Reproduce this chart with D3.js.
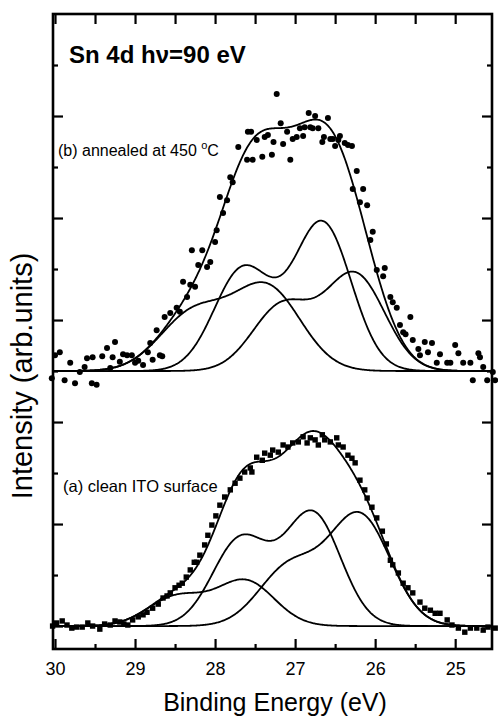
<!DOCTYPE html>
<html>
<head>
<meta charset="utf-8">
<script src="https://cdn.jsdelivr.net/npm/d3@7"></script>
<style>
  body { margin: 0; background: #fff; }
  svg { display: block; font-family: "Liberation Sans", Arial, sans-serif; }
</style>
</head>
<body>
<script>
// tick labels on the energy axis
const energyTicks = [30, 29, 28, 27, 26, 25];

// (b) annealed at 450 C : [binding energy eV, intensity above its own baseline]
const annealedPoints = [
  [30.04,-0.14],[30.0,0.31],[29.94,0.37],[29.88,-0.18],[29.81,0.16],[29.75,-0.24],[29.69,-0.02],
  [29.63,0.08],[29.6,0.25],[29.54,-0.24],[29.53,0.27],[29.48,-0.27],[29.41,0.29],[29.35,0.45],
  [29.31,0.06],[29.28,0.27],[29.25,0.57],[29.19,0.18],[29.15,0.33],[29.1,0.31],[29.04,0.31],
  [29.0,0.16],[28.96,0.2],[28.9,0.12],[28.84,0.37],[28.81,0.55],[28.78,0.22],[28.73,0.8],
  [28.69,0.31],[28.66,0.29],[28.63,1.06],[28.56,1.14],[28.48,1.24],[28.44,1.16],[28.4,1.75],
  [28.35,1.45],[28.31,1.69],[28.29,2.37],[28.25,1.65],[28.21,2.08],[28.16,2.37],[28.1,2.04],
  [28.06,2.14],[28.0,2.53],[27.98,2.76],[27.94,3.41],[27.9,3.1],[27.85,3.35],[27.81,3.8],
  [27.78,3.7],[27.71,4.39],[27.6,4.14],[27.59,4.69],[27.55,4.69],[27.53,4.14],[27.48,4.53],
  [27.41,4.2],[27.38,4.59],[27.34,4.63],[27.29,4.24],[27.27,4.49],[27.23,5.43],[27.18,4.86],
  [27.15,4.45],[27.1,4.69],[27.06,4.14],[27.03,4.55],[26.98,4.59],[26.94,4.76],[26.9,4.61],
  [26.88,4.78],[26.83,5.06],[26.81,4.78],[26.78,4.76],[26.75,5.0],[26.71,4.76],[26.66,4.49],
  [26.64,4.59],[26.59,4.96],[26.56,4.55],[26.53,4.55],[26.5,4.41],[26.46,4.53],[26.44,4.61],
  [26.38,4.47],[26.34,4.43],[26.29,4.41],[26.28,3.57],[26.23,3.92],[26.19,3.31],[26.15,3.57],
  [26.1,3.25],[26.06,2.57],[26.03,2.73],[25.98,1.98],[25.9,1.86],[25.88,2.02],[25.81,1.45],
  [25.78,1.35],[25.73,1.24],[25.69,0.9],[25.65,0.76],[25.62,0.72],[25.56,1.06],[25.53,0.61],
  [25.46,0.43],[25.44,0.31],[25.38,0.57],[25.34,0.37],[25.29,0.55],[25.23,0.16],[25.19,0.33],
  [25.1,0.16],[25.06,0.16],[25.0,0.51],[24.96,0.35],[24.9,0.16],[24.81,0.16],[24.78,-0.18],
  [24.71,0.35],[24.69,0.27],[24.65,0.08],[24.6,-0.18],[24.53,-0.02],[24.5,-0.18]
];

// (a) clean ITO surface
const cleanPoints = [
  [30.03,0.0],[29.98,0.06],[29.91,0.1],[29.85,0.02],[29.79,-0.04],[29.73,-0.02],[29.66,-0.02],
  [29.59,0.06],[29.53,0.0],[29.44,-0.06],[29.38,0.04],[29.31,0.02],[29.25,0.1],[29.19,0.08],
  [29.14,0.04],[29.09,0.02],[29.03,0.12],[28.96,0.18],[28.9,0.22],[28.85,0.27],[28.78,0.35],
  [28.71,0.43],[28.65,0.55],[28.6,0.59],[28.56,0.65],[28.5,0.75],[28.45,0.8],[28.41,0.84],
  [28.36,0.96],[28.31,1.1],[28.26,1.25],[28.23,1.25],[28.19,1.39],[28.13,1.59],[28.09,1.78],
  [28.04,1.98],[27.99,2.16],[27.94,2.37],[27.88,2.53],[27.81,2.67],[27.75,2.8],[27.69,2.9],
  [27.63,3.02],[27.56,3.1],[27.54,3.02],[27.48,3.31],[27.41,3.25],[27.38,3.39],[27.31,3.35],
  [27.28,3.45],[27.21,3.41],[27.15,3.55],[27.09,3.51],[27.03,3.59],[26.96,3.61],[26.9,3.71],
  [26.85,3.59],[26.81,3.69],[26.75,3.65],[26.71,3.55],[26.66,3.75],[26.63,3.65],[26.56,3.61],
  [26.48,3.69],[26.46,3.55],[26.4,3.51],[26.34,3.35],[26.29,3.29],[26.25,3.2],[26.19,2.86],
  [26.13,2.67],[26.1,2.51],[26.04,2.33],[25.98,2.12],[25.91,1.86],[25.86,1.61],[25.81,1.29],
  [25.78,1.2],[25.71,1.04],[25.65,0.84],[25.59,0.75],[25.53,0.65],[25.44,0.47],[25.38,0.35],
  [25.31,0.31],[25.25,0.25],[25.19,0.25],[25.1,0.12],[25.04,0.02],[24.96,-0.04],[24.88,-0.12],
  [24.81,-0.04],[24.73,-0.04],[24.65,-0.08],[24.59,-0.02],[24.5,-0.04]
];

// fitted spin-orbit doublets (4d3/2, 4d5/2): centres, heights, gaussian width
const annealedCentres = [[28.27, 27.35], [27.65, 26.66], [27.16, 26.25]];
const annealedHeights = [[1.12, 1.62], [2.0, 2.9], [1.28, 1.88]];
const annealedWidths = [0.42, 0.36, 0.37];

const cleanCentres = [[28.48, 27.62], [27.68, 26.78], [27.07, 26.19]];
const cleanHeights = [[0.57, 0.88], [1.7, 2.2], [1.15, 2.15]];
const cleanWidths = [0.36, 0.35, 0.38];

// vertical offset of each spectrum (in tick units)
const cleanBase = 0;
const annealedBase = 5;

(function(){
  const width = 498, height = 717;
  const x = d3.scaleLinear().domain([30.025, 24.54]).range([53, 492]);
  const y = d3.scaleLinear().domain([-0.45, 12]).range([649, 14]);

  const svg = d3.create("svg")
      .attr("width", width)
      .attr("height", height)
      .attr("viewBox", [0, 0, width, height]);

  // fit curves, evaluated on a fine energy grid
  const grid = d3.range(24.54, 30.03, 0.01);
  const doublet = (c, h, s) => grid.map(e =>
    [e, h[0] * Math.exp(-((e - c[0]) ** 2) / (2 * s * s)) + h[1] * Math.exp(-((e - c[1]) ** 2) / (2 * s * s))]);

  function drawSpectrum(points, centres, heights, widths, base, marker) {
    const comps = centres.map((c, i) => doublet(c, heights[i], widths[i]));
    const total = grid.map((e, j) => [e, d3.sum(comps, c => c[j][1])]);

    const line = d3.line()
        .x(d => x(d[0]))
        .y(d => y(base + d[1]));

    const g = svg.append("g");

    if (marker === "circle") {
      g.append("g")
        .selectAll("circle")
        .data(points)
        .join("circle")
          .attr("cx", d => x(d[0]))
          .attr("cy", d => y(base + d[1]))
          .attr("r", 3)
          .attr("fill", "#000");
    } else {
      g.append("g")
        .selectAll("rect")
        .data(points)
        .join("rect")
          .attr("x", d => x(d[0]) - 2.7)
          .attr("y", d => y(base + d[1]) - 2.7)
          .attr("width", 5.4)
          .attr("height", 5.4)
          .attr("fill", "#000");
    }

    g.append("g")
        .attr("fill", "none")
        .attr("stroke", "#000")
        .attr("stroke-width", 1.8)
      .selectAll("path")
      .data(comps.concat([total]))
      .join("path")
        .attr("d", line);
  }

  drawSpectrum(annealedPoints, annealedCentres, annealedHeights, annealedWidths, annealedBase, "circle");
  drawSpectrum(cleanPoints, cleanCentres, cleanHeights, cleanWidths, cleanBase, "square");

  // axes: ticks pointing inwards, domain lines replaced by the frame
  const halves = d3.range(24.5, 30.01, 0.5).filter(v => x(v) > 54 && x(v) < 491);
  const majors = energyTicks;
  const minors = halves.filter(v => !Number.isInteger(v));
  const yLong = d3.range(0, 12, 2);
  const yShort = d3.range(1, 12, 2);

  const axes = [
    [d3.axisBottom(x).tickValues(majors).tickSizeInner(-10).tickSizeOuter(0).tickPadding(13).tickFormat(d3.format("d")), 649],
    [d3.axisBottom(x).tickValues(minors).tickSizeInner(-5).tickSizeOuter(0).tickFormat(""), 649],
    [d3.axisTop(x).tickValues(halves).tickSizeInner(-10).tickSizeOuter(0).tickFormat(""), 14]
  ];
  axes.forEach(([ax, ty]) => {
    svg.append("g")
        .attr("transform", `translate(0,${ty})`)
        .call(ax)
        .call(g => g.select(".domain").remove())
        .call(g => g.selectAll("line").attr("stroke-width", 2.2))
        .call(g => g.selectAll("text").attr("font-size", 18).attr("fill", "#000")
          .attr("font-family", "'Liberation Sans', Arial, sans-serif"));
  });

  [[d3.axisLeft, 53], [d3.axisRight, 492]].forEach(([axf, tx]) => {
    [[yLong, -10], [yShort, -5]].forEach(([vals, size]) => {
      svg.append("g")
          .attr("transform", `translate(${tx},0)`)
          .call(axf(y).tickValues(vals).tickSizeInner(size).tickSizeOuter(0).tickFormat(""))
          .call(g => g.select(".domain").remove())
          .call(g => g.selectAll("line").attr("stroke-width", 2.2));
    });
  });

  svg.append("rect")
      .attr("x", 53)
      .attr("y", 14)
      .attr("width", 439)
      .attr("height", 635)
      .attr("fill", "none")
      .attr("stroke", "#000")
      .attr("stroke-width", 2.6);

  // labels
  svg.append("text")
      .attr("x", 69)
      .attr("y", 63)
      .attr("font-size", 24)
      .attr("font-weight", "bold")
      .text("Sn 4d hν=90 eV");

  const bLabel = svg.append("text")
      .attr("x", 58)
      .attr("y", 156)
      .attr("font-size", 16);
  bLabel.append("tspan").text("(b) annealed at 450 ");
  bLabel.append("tspan").attr("font-size", 11).attr("dy", -7).text("o");
  bLabel.append("tspan").attr("dy", 7).text("C");

  svg.append("text")
      .attr("x", 63)
      .attr("y", 492)
      .attr("font-size", 16.5)
      .text("(a) clean ITO surface");

  svg.append("text")
      .attr("transform", "translate(32,376) rotate(-90)")
      .attr("text-anchor", "middle")
      .attr("font-size", 29)
      .text("Intensity (arb.units)");

  svg.append("text")
      .attr("x", 275)
      .attr("y", 711)
      .attr("text-anchor", "middle")
      .attr("font-size", 25)
      .text("Binding Energy (eV)");

  document.body.appendChild(svg.node());
})();
</script>
</body>
</html>
